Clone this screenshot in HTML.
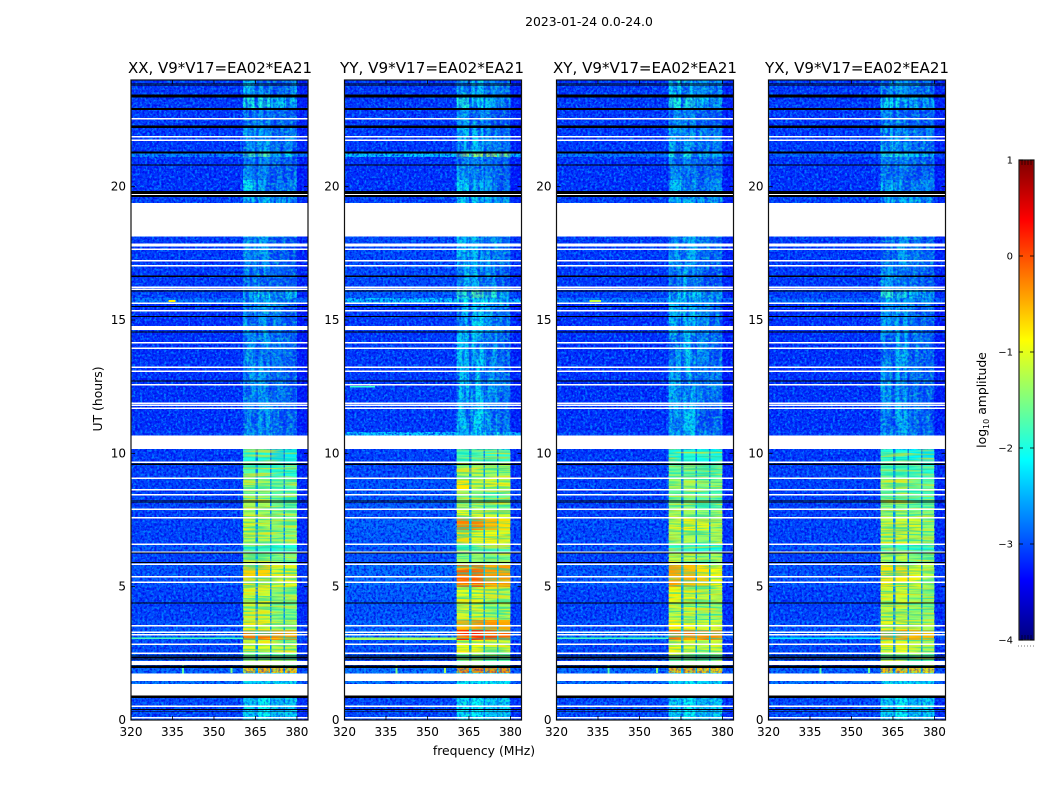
<!DOCTYPE html>
<html>
<head>
<meta charset="utf-8">
<title>Spectrogram 2023-01-24</title>
<style>
html,body{margin:0;padding:0;background:#fff;width:1050px;height:800px;overflow:hidden}
svg{display:block}
text{font-family:"DejaVu Sans","Liberation Sans",sans-serif;fill:#000}
</style>
</head>
<body>
<svg id="chart" xmlns="http://www.w3.org/2000/svg" width="1050" height="800" viewBox="0 0 1050 800">
  <defs>
    <filter id="noise-light" x="0" y="0" width="100%" height="100%" color-interpolation-filters="sRGB">
      <feTurbulence type="fractalNoise" baseFrequency="0.42" numOctaves="2" seed="4"/>
      <feColorMatrix type="matrix" values="0 0 0 0 0  0 0 0 0 0.58  0 0 0 0 1  3.6 0 0 0 -1.55"/>
    </filter>
    <filter id="noise-dark" x="0" y="0" width="100%" height="100%" color-interpolation-filters="sRGB">
      <feTurbulence type="fractalNoise" baseFrequency="0.42" numOctaves="2" seed="17"/>
      <feColorMatrix type="matrix" values="0 0 0 0 0  0 0 0 0 0  0 0 0 0 0.9  3.6 0 0 0 -1.55"/>
    </filter>
    <filter id="noise-green" x="0" y="0" width="100%" height="100%" color-interpolation-filters="sRGB">
      <feTurbulence type="fractalNoise" baseFrequency="0.3 0.42" numOctaves="2" seed="29"/>
      <feColorMatrix type="matrix" values="0 0 0 0 0.1  0 0 0 0 1  0 0 0 0 0.7  3.8 0 0 0 -1.7"/>
    </filter>
    <filter id="noise-column" x="0" y="0" width="100%" height="100%" color-interpolation-filters="sRGB">
      <feTurbulence type="fractalNoise" baseFrequency="0.22 0.03" numOctaves="2" seed="5"/>
      <feColorMatrix type="matrix" values="0 0 0 0 0  0 0 0 0 0.15  0 0 0 0 1  4 0 0 0 -1.7"/>
    </filter>
    <filter id="noise-streak" x="0" y="0" width="100%" height="100%" color-interpolation-filters="sRGB">
      <feTurbulence type="fractalNoise" baseFrequency="0.025 0.5" numOctaves="2" seed="9"/>
      <feColorMatrix type="matrix" values="0 0 0 0 1  0 0 0 0 0.85  0 0 0 0 0  4 0 0 0 -1.75"/>
    </filter>
    <filter id="noise-streak-cool" x="0" y="0" width="100%" height="100%" color-interpolation-filters="sRGB">
      <feTurbulence type="fractalNoise" baseFrequency="0.025 0.55" numOctaves="2" seed="23"/>
      <feColorMatrix type="matrix" values="0 0 0 0 0  0 0 0 0 0.85  0 0 0 0 0.75  4 0 0 0 -1.75"/>
    </filter>
  </defs>
  <g id="plots"></g>
  <g id="colorbar"></g>
  <text x="589" y="26" font-size="12.4" text-anchor="middle">2023-01-24 0.0-24.0</text>
  <text x="484" y="755" font-size="12.4" text-anchor="middle">frequency (MHz)</text>
  <text x="102" y="399" font-size="12.4" text-anchor="middle" transform="rotate(-90 102 399)">UT (hours)</text>
  <text x="986" y="400" font-size="12.4" text-anchor="middle" transform="rotate(-90 986 400)">log<tspan font-size="8" dy="3">10</tspan><tspan dy="-3"> amplitude</tspan></text>
</svg>
<script>
// ---- chart data ----
const panelTitles = ["XX, V9*V17=EA02*EA21", "YY, V9*V17=EA02*EA21", "XY, V9*V17=EA02*EA21", "YX, V9*V17=EA02*EA21"];
const freqTicks = [320, 335, 350, 365, 380];
const hourTicks = [0, 5, 10, 15, 20];
const colorTicks = [1, 0, -1, -2, -3, -4];

// spectral windows in MHz: low edge, high edge
const bandEdges = [[360.5, 365], [365.9, 370.2], [370.8, 375.1], [375.7, 380]];

// upper hour of each time segment (a segment ends where the next begins)
const segmentTops = [24, 23.4, 22.91, 22.24, 21.3, 21.11, 20.25, 19.8, 18.11, 16.13, 15.83, 15.64, 10.8, 10.65, 9.64, 9.08, 8.63, 8.25, 7.88, 7.58, 7.13, 6.56, 6.26, 5.81, 5.36, 4.99, 4.39, 3.75, 3.38, 3.0, 2.51, 1.95, 1.76, 0.82];

// log10 amplitude per segment: [out-of-band, window1, window2, window3, window4]
const xxLevels = [
[-3.1,-2.3,-2.55,-2.75,-2.55],[-3.1,-2.0,-2.0,-2.25,-2.35],[-3.1,-2.65,-2.65,-2.85,-2.85],[-3.1,-2.5,-2.5,-2.75,-2.7],
[-2.65,-1.8,-1.7,-2.5,-2.2],[-3.15,-2.65,-2.65,-2.85,-2.85],[-3.15,-2.25,-2.45,-2.65,-2.65],[-3.05,-2.35,-2.35,-2.45,-2.55],
[-3.1,-2.65,-2.55,-2.85,-2.95],[-3.05,-2.3,-2.1,-2.5,-2.4],[-2.75,-2.45,-2.35,-2.65,-2.65],[-3.15,-2.55,-2.55,-2.75,-2.85],
[-3.05,-2.5,-2.5,-2.7,-2.8],[-3.1,-2.0,-2.0,-2.3,-2.2],[-3.05,-1.75,-1.75,-1.95,-1.95],[-3.05,-1.35,-1.4,-1.7,-1.7],
[-3.05,-1.5,-1.5,-1.7,-1.7],[-3.05,-1.3,-1.3,-1.6,-1.6],[-3.05,-1.3,-1.3,-1.5,-1.5],[-3.05,-1.1,-1.2,-1.4,-1.45],
[-3.05,-1.25,-1.3,-1.45,-1.45],[-2.95,-1.9,-1.8,-2.0,-2.0],[-3.05,-1.2,-1.3,-1.5,-1.5],[-2.95,-0.65,-0.65,-1.05,-1.05],
[-2.95,-0.75,-0.8,-1.05,-1.05],[-3.05,-1.1,-1.1,-1.4,-1.4],[-3.05,-1.2,-1.2,-1.5,-1.5],[-2.95,-1.0,-1.0,-1.3,-1.3],
[-2.85,-0.2,-0.15,-0.25,-0.25],[-3.0,-1.0,-1.0,-1.2,-1.2],[-2.95,-1.6,-1.6,-1.7,-1.7],[-2.85,-0.6,-0.5,-0.6,-0.6],
[-2.75,-2.3,-2.3,-2.3,-2.3],[-3.0,-2.35,-2.15,-2.45,-2.35]];
const yyLevels = [
[-3.1,-2.35,-2.35,-2.65,-2.75],[-3.1,-2.0,-2.1,-2.35,-2.55],[-3.1,-2.55,-2.55,-2.75,-2.85],[-3.1,-2.35,-2.35,-2.65,-2.75],
[-2.3,-1.35,-1.35,-1.35,-1.45],[-3.15,-2.55,-2.55,-2.75,-2.85],[-3.15,-2.25,-2.35,-2.55,-2.75],[-3.05,-2.25,-2.25,-2.35,-2.45],
[-3.0,-2.4,-2.4,-2.55,-2.75],[-2.9,-1.9,-1.7,-1.9,-2.3],[-2.3,-2.1,-2.1,-2.2,-2.4],[-3.1,-2.35,-2.25,-2.55,-2.75],
[-2.3,-2.25,-2.25,-2.25,-2.35],[-3.05,-1.85,-1.75,-1.85,-1.95],[-3.0,-1.25,-1.25,-1.35,-1.35],[-2.95,-0.8,-1.2,-1.1,-1.1],
[-2.9,-1.4,-1.5,-1.7,-1.6],[-2.9,-1.4,-1.4,-1.5,-1.5],[-2.95,-1.0,-1.1,-1.1,-1.1],[-2.85,-0.25,-0.25,-0.45,-0.75],
[-2.9,-0.7,-1.0,-0.95,-1.05],[-2.9,-1.7,-1.7,-1.8,-1.8],[-2.95,-1.4,-1.4,-1.5,-1.5],[-2.8,-0.1,-0.1,-0.35,-0.35],
[-2.8,-0.05,0.0,-0.3,-0.35],[-2.9,-1.0,-1.0,-1.2,-1.3],[-2.95,-1.1,-1.1,-1.3,-1.3],[-2.85,-0.35,-0.3,-0.35,-0.45],
[-2.75,0.2,0.25,0.05,-0.1],[-2.95,-0.9,-0.9,-1.1,-1.1],[-2.95,-1.6,-1.6,-1.7,-1.7],[-2.75,-0.3,-0.3,-0.35,-0.35],
[-2.75,-2.2,-2.2,-2.2,-2.2],[-3.0,-2.25,-2.15,-2.35,-2.35]];
const xyLevels = [
[-3.1,-2.25,-2.35,-2.65,-2.55],[-3.1,-2.0,-2.0,-2.3,-2.4],[-3.1,-2.65,-2.55,-2.85,-2.85],[-3.1,-2.5,-2.5,-2.65,-2.7],
[-2.75,-2.0,-2.0,-2.3,-2.4],[-3.15,-2.65,-2.65,-2.85,-2.85],[-3.15,-2.35,-2.45,-2.65,-2.65],[-3.05,-2.35,-2.35,-2.45,-2.55],
[-3.1,-2.55,-2.45,-2.75,-2.85],[-3.05,-2.2,-2.1,-2.3,-2.5],[-2.75,-2.35,-2.35,-2.55,-2.65],[-3.15,-2.45,-2.35,-2.65,-2.75],
[-3.05,-2.4,-2.3,-2.6,-2.7],[-3.1,-2.05,-1.95,-2.05,-2.15],[-3.05,-1.65,-1.65,-1.75,-1.75],[-3.05,-1.35,-1.35,-1.5,-1.5],
[-3.05,-1.6,-1.6,-1.8,-1.8],[-3.05,-1.5,-1.5,-1.7,-1.7],[-3.05,-1.3,-1.3,-1.4,-1.4],[-3.0,-1.1,-0.95,-1.05,-1.3],
[-3.0,-1.3,-1.25,-1.4,-1.3],[-2.95,-1.9,-1.9,-2.0,-2.1],[-3.05,-1.2,-1.2,-1.4,-1.3],[-2.9,-0.4,-0.5,-0.75,-0.9],
[-2.9,-0.4,-0.45,-0.6,-0.85],[-3.05,-0.95,-1.0,-1.2,-1.2],[-3.05,-1.2,-1.2,-1.4,-1.4],[-2.95,-0.85,-0.9,-1.1,-1.1],
[-2.8,-0.15,-0.15,-0.25,-0.3],[-3.0,-0.95,-1.0,-1.2,-1.1],[-2.95,-1.6,-1.6,-1.7,-1.7],[-2.8,-0.55,-0.5,-0.6,-0.6],
[-2.75,-2.3,-2.2,-2.3,-2.3],[-3.0,-2.35,-2.15,-2.45,-2.35]];
const yxLevels = [
[-3.1,-2.45,-2.55,-2.75,-2.65],[-3.1,-2.1,-2.2,-2.45,-2.45],[-3.1,-2.65,-2.65,-2.85,-2.85],[-3.1,-2.45,-2.55,-2.75,-2.65],
[-2.85,-2.0,-2.0,-2.3,-2.3],[-3.15,-2.65,-2.65,-2.85,-2.85],[-3.15,-2.35,-2.45,-2.65,-2.65],[-3.05,-2.35,-2.35,-2.45,-2.55],
[-3.1,-2.55,-2.55,-2.75,-2.85],[-3.05,-1.9,-2.0,-2.3,-2.4],[-2.8,-2.35,-2.45,-2.55,-2.65],[-3.15,-2.55,-2.45,-2.75,-2.85],
[-3.05,-2.45,-2.45,-2.65,-2.75],[-3.1,-1.95,-2.05,-2.15,-2.25],[-3.05,-1.75,-1.75,-1.85,-1.95],[-3.05,-1.35,-1.3,-1.6,-1.7],
[-3.05,-1.6,-1.6,-1.8,-1.8],[-3.05,-1.5,-1.5,-1.7,-1.7],[-3.05,-1.35,-1.3,-1.5,-1.5],[-3.05,-1.2,-1.1,-1.05,-1.4],
[-3.05,-1.2,-1.1,-1.3,-1.4],[-2.95,-1.9,-1.9,-2.0,-2.0],[-3.05,-1.25,-1.2,-1.5,-1.5],[-2.95,-0.75,-0.7,-1.0,-1.2],
[-2.95,-0.8,-0.85,-0.95,-1.25],[-3.05,-1.1,-1.1,-1.3,-1.4],[-3.05,-1.2,-1.2,-1.4,-1.5],[-2.95,-1.0,-1.0,-1.25,-1.3],
[-2.85,-0.3,-0.3,-0.45,-0.5],[-3.0,-1.0,-1.0,-1.2,-1.3],[-2.95,-1.6,-1.6,-1.7,-1.7],[-2.85,-0.55,-0.55,-0.65,-0.7],
[-2.75,-2.3,-2.3,-2.3,-2.3],[-3.0,-2.35,-2.15,-2.45,-2.35]];
const panelLevels = [xxLevels, yyLevels, xyLevels, yxLevels];

// isolated bright features: [panel, MHz low, MHz high, hour top, hour bottom, level]
const hotSpots = [
[0,320,360.5,3.1,3.03,-1.8],[1,320,360.5,3.1,3.0,-1.3],[2,320,360.5,3.1,3.03,-1.8],[3,320,360.5,3.1,3.03,-2.2],
[0,338.4,339.2,2.2,1.7,-1.7],[1,338.4,339.2,2.2,1.7,-1.5],[2,338.4,339.2,2.2,1.7,-1.7],[3,338.4,339.2,2.2,1.7,-1.7],
[0,356,356.7,1.95,1.76,-1.5],[1,356,356.7,1.95,1.76,-1.3],[2,356,356.7,1.95,1.76,-1.5],[3,356,356.7,1.95,1.76,-1.6],
[0,333.5,336,15.75,15.68,-0.8],[2,332,336,15.75,15.68,-1.2],[1,322,331,12.52,12.46,-1.9]];

// flagged (no data) spans in hours
const whiteLines = [22.55,21.87,21.75,19.71,17.85,17.79,17.65,17.22,17.03,16.23,16.15,15.63,15.35,14.15,13.94,13.23,13.08,12.57,11.88,11.8,11.69,9.66,9.06,8.64,8.44,7.9,7.59,6.59,6.29,5.84,5.37,5.16,3.54,3.3,3.19,2.84,2.51,0.51,0.09];
const whiteBlocks = [[19.38,18.13],[14.78,14.63],[10.66,10.16],[2.22,2.06],[1.74,1.46],[1.35,0.9]];
// zero-amplitude lines: [hour, thickness in hours]
const blackLines = [[23.85,0.02],[23.79,0.02],[23.4,0.1],[22.91,0.08],[22.3,0.03],[22.24,0.08],[21.28,0.07],[20.81,0.03],[19.78,0.11],[19.65,0.07],[16.64,0.04],[16.09,0.04],[15.5,0.04],[15.13,0.04],[14.55,0.04],[12.72,0.04],[9.59,0.04],[8.24,0.03],[8.18,0.03],[6.26,0.04],[5.91,0.04],[4.39,0.04],[2.4,0.04],[2.34,0.04],[2.28,0.04],[2.0,0.1],[0.87,0.08],[0.39,0.04],[0.33,0.03]];

// ---- layout ----
const panelLefts = [131, 344.5, 556.5, 768.5];
const titleCenters = [220, 432, 645, 857];
const panelWidth = 177;
const plotTop = 80, plotBottom = 720;
const minFreq = 320, maxFreq = 384, maxHour = 24;
const NS = "http://www.w3.org/2000/svg";
const plots = document.getElementById("plots");
const cbar = document.getElementById("colorbar");

function yScale(h) { return plotBottom - h / maxHour * (plotBottom - plotTop); }
function xScale(left, f) { return left + (f - minFreq) / (maxFreq - minFreq) * panelWidth; }
function clip01(v) { return Math.max(0, Math.min(1, v)); }
function jet(f) {
  const r = clip01(Math.min(4 * f - 1.5, -4 * f + 4.5));
  const g = clip01(Math.min(4 * f - 0.5, -4 * f + 3.5));
  const b = clip01(Math.min(4 * f + 0.5, -4 * f + 2.5));
  return "rgb(" + Math.round(r * 255) + "," + Math.round(g * 255) + "," + Math.round(b * 255) + ")";
}
function levelColor(v) { return jet((v + 4) / 5); }
function svgEl(tag, attrs, parent) {
  const el = document.createElementNS(NS, tag);
  for (const k in attrs) el.setAttribute(k, attrs[k]);
  parent.appendChild(el);
  return el;
}

panelTitles.forEach(function (title, p) {
  const left = panelLefts[p];
  const right = left + panelWidth;
  const levels = panelLevels[p];
  const g = svgEl("g", {}, plots);
  
  
  const data = svgEl("g", { "shape-rendering": "crispEdges" }, g);
  
  

  segmentTops.forEach(function (top, s) {
    const bottom = s + 1 < segmentTops.length ? segmentTops[s + 1] : 0;
    const row = levels[s];
    const yT = yScale(top), yB = yScale(bottom);
    // out-of-band background, slightly darker on the high-frequency side
    const bg = svgEl("rect", { x: left, y: yT, width: panelWidth, height: yB - yT, fill: levelColor(row[0]) }, data);
    
    
    const hi = svgEl("rect", { x: xScale(left, bandEdges[3][1]), y: yT, width: right - xScale(left, bandEdges[3][1]), height: yB - yT, fill: levelColor(row[0] - 0.12) }, data);
    
    
    bandEdges.forEach(function (edge, b) {
      const x0 = xScale(left, edge[0]), x1 = xScale(left, edge[1]);
      const cell = svgEl("rect", { x: x0, y: yT, width: x1 - x0, height: yB - yT, fill: levelColor(row[b + 1]) }, data);
      
      
      if (b < 3) {
        const x2 = xScale(left, bandEdges[b + 1][0]);
        const gap = svgEl("rect", { x: x1, y: yT, width: x2 - x1, height: yB - yT, fill: levelColor(row[0] + 0.3) }, data);
        
        
      }
    });
  });

  // receiver-noise texture (purely visual)
  const bandL = xScale(left, bandEdges[0][0]), bandR = xScale(left, bandEdges[3][1]);
  const yMid = yScale(10.16), yLow = yScale(2.0);
  const tex = svgEl("g", {}, g);
  
  
  svgEl("rect", { x: left, y: plotTop, width: bandL - left, height: plotBottom - plotTop, filter: "url(#noise-light)", opacity: 0.8 }, tex);
  svgEl("rect", { x: left, y: plotTop, width: bandL - left, height: plotBottom - plotTop, filter: "url(#noise-dark)", opacity: 0.75 }, tex);
  svgEl("rect", { x: bandR, y: plotTop, width: right - bandR, height: plotBottom - plotTop, filter: "url(#noise-light)", opacity: 0.55 }, tex);
  svgEl("rect", { x: bandR, y: plotTop, width: right - bandR, height: plotBottom - plotTop, filter: "url(#noise-dark)", opacity: 0.8 }, tex);
  svgEl("rect", { x: bandL, y: plotTop, width: bandR - bandL, height: yMid - plotTop, filter: "url(#noise-column)", opacity: 0.7 }, tex);
  svgEl("rect", { x: bandL, y: plotTop, width: bandR - bandL, height: yMid - plotTop, filter: "url(#noise-green)", opacity: 0.5 }, tex);
  svgEl("rect", { x: bandL, y: plotTop, width: bandR - bandL, height: yMid - plotTop, filter: "url(#noise-dark)", opacity: 0.45 }, tex);
  svgEl("rect", { x: bandL, y: yMid, width: bandR - bandL, height: yLow - yMid, filter: "url(#noise-streak)", opacity: 0.65 }, tex);
  svgEl("rect", { x: bandL, y: yMid, width: bandR - bandL, height: yLow - yMid, filter: "url(#noise-streak-cool)", opacity: 0.6 }, tex);
  svgEl("rect", { x: bandL, y: yLow, width: bandR - bandL, height: plotBottom - yLow, filter: "url(#noise-green)", opacity: 0.5 }, tex);
  svgEl("rect", { x: bandL, y: yLow, width: bandR - bandL, height: plotBottom - yLow, filter: "url(#noise-dark)", opacity: 0.45 }, tex);

  const flags = svgEl("g", { "shape-rendering": "crispEdges" }, g);
  
  

  hotSpots.filter(function (s) { return s[0] === p; }).forEach(function (s) {
    const x0 = xScale(left, s[1]), x1 = xScale(left, s[2]);
    const spot = svgEl("rect", { x: x0, y: yScale(s[3]), width: x1 - x0, height: Math.max(1, yScale(s[4]) - yScale(s[3])), fill: levelColor(s[5]) }, flags);
    
    
  });
  whiteBlocks.forEach(function (w) {
    const block = svgEl("rect", { x: left, y: yScale(w[0]), width: panelWidth, height: yScale(w[1]) - yScale(w[0]), fill: "#fff" }, flags);
    
    
  });
  whiteLines.forEach(function (h) {
    const line = svgEl("rect", { x: left, y: yScale(h) - 0.75, width: panelWidth, height: 1.5, fill: "#fff" }, flags);
    
    
  });
  blackLines.forEach(function (b) {
    const line = svgEl("rect", { x: left, y: yScale(b[0]) - (b[1] / maxHour * (plotBottom - plotTop)) / 2, width: panelWidth, height: b[1] / maxHour * (plotBottom - plotTop), fill: "#000" }, flags);
    
    
  });

  // frame and ticks
  const frame = svgEl("rect", { x: left, y: plotTop, width: panelWidth, height: plotBottom - plotTop, fill: "none", stroke: "#111", "stroke-width": 1.2 }, g);
  
  

  freqTicks.forEach(function (f) {
    const x = xScale(left, f);
    const t1 = svgEl("line", { x1: x, x2: x, y1: plotBottom, y2: plotBottom - 4, stroke: "#000", "stroke-width": 0.8 }, g);
    
    
    const t2 = svgEl("line", { x1: x, x2: x, y1: plotTop, y2: plotTop + 4, stroke: "#000", "stroke-width": 0.8 }, g);
    
    
    const label = svgEl("text", { x: x, y: 736, "font-size": 12, "text-anchor": "middle" }, g);
    
    
    label.textContent = f;
  });
  hourTicks.forEach(function (h) {
    const y = yScale(h);
    const t1 = svgEl("line", { x1: left, x2: left + 4, y1: y, y2: y, stroke: "#000", "stroke-width": 0.8 }, g);
    
    
    const t2 = svgEl("line", { x1: right - 4, x2: right, y1: y, y2: y, stroke: "#000", "stroke-width": 0.8 }, g);
    
    
    const label = svgEl("text", { x: left - 5, y: y + 4, "font-size": 12, "text-anchor": "end" }, g);
    
    
    label.textContent = h;
  });

  const heading = svgEl("text", { x: titleCenters[p], y: 73, "font-size": 15.2, "text-anchor": "middle", textLength: 184, lengthAdjust: "spacingAndGlyphs" }, g);
  
  
  heading.textContent = title;
});

// ---- colorbar ----
const cbX = 1019, cbW = 15, cbT = 160, cbB = 640;
const cbMin = colorTicks[colorTicks.length - 1], cbMax = colorTicks[0];
function cbY(v) { return cbB - (v - cbMin) / (cbMax - cbMin) * (cbB - cbT); }
const defs = document.querySelector("defs");
const grad = svgEl("linearGradient", { id: "jet-gradient", x1: 0, y1: 1, x2: 0, y2: 0 }, defs);
for (let i = 0; i <= 64; i++) {
  svgEl("stop", { offset: (i / 64 * 100) + "%", "stop-color": jet(i / 64) }, grad);
}
const ramp = svgEl("rect", { x: cbX, y: cbT, width: cbW, height: cbB - cbT, fill: "url(#jet-gradient)", stroke: "#222", "stroke-width": 1.2 }, cbar);


colorTicks.forEach(function (v) {
  const y = cbY(v);
  const t1 = svgEl("line", { x1: cbX, x2: cbX + 4, y1: y, y2: y, stroke: "#000", "stroke-width": 0.8 }, cbar);
  
  
  const t2 = svgEl("line", { x1: cbX + cbW - 4, x2: cbX + cbW, y1: y, y2: y, stroke: "#000", "stroke-width": 0.8 }, cbar);
  
  
  const label = svgEl("text", { x: 1013, y: y + 3.5, "font-size": 10, "text-anchor": "end" }, cbar);
  
  
  label.textContent = v < 0 ? "\u2212" + Math.abs(v) : String(v);
});
for (const v of [cbMin, cbMax]) {
  for (let i = 1; i <= 4; i++) {
    const x = cbX + i * cbW / 5;
    const y0 = v === cbMax ? cbT : cbB;
    const y1 = v === cbMax ? cbT + 5 : cbB - 5;
    const m = svgEl("line", { x1: x, x2: x, y1: y0, y2: y1, stroke: "#000", "stroke-width": 0.6 }, cbar);
    
    
  }
}
const dots = svgEl("line", { x1: 1018, x2: 1035, y1: 646, y2: 646, stroke: "#777", "stroke-width": 1, "stroke-dasharray": "1 2" }, cbar);


</script>
</body>
</html>
